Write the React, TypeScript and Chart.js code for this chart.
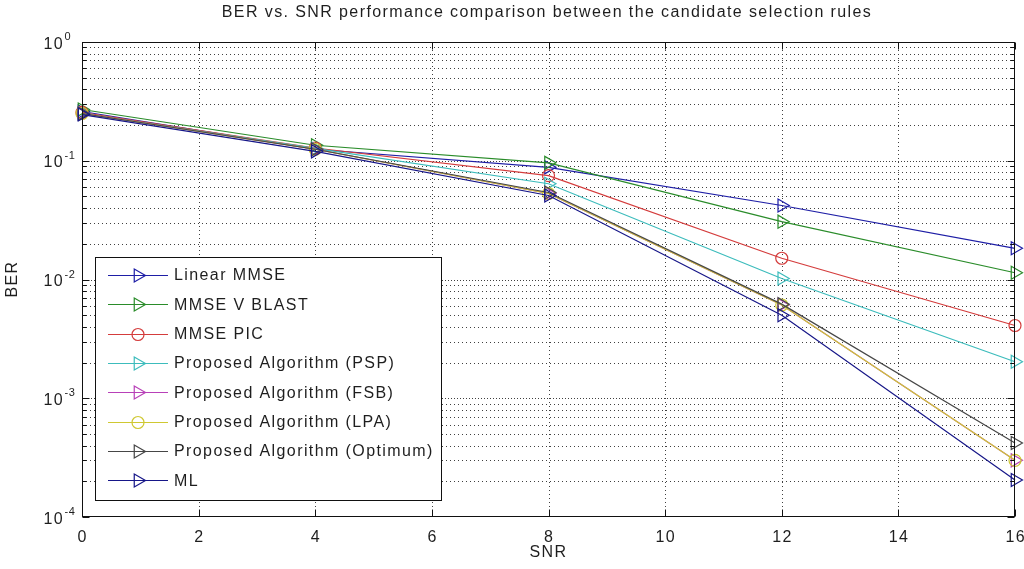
import React, { useEffect, useRef } from 'react';
import { Chart, registerables } from 'chart.js';
import { drawPoint } from 'chart.js/helpers';

Chart.register(...registerables);

// ---- data ----
const snr = [0, 4, 8, 12, 16];
const linearMMSE = [0.26, 0.125, 0.088, 0.042, 0.0183];
const mmseVBlast = [0.27, 0.135, 0.096, 0.0307, 0.0114];
const mmsePIC = [0.255, 0.128, 0.075, 0.0151, 0.0041];
const pspAlg = [0.25, 0.127, 0.064, 0.0102, 0.00203];
const fsbAlg = [0.25, 0.125, 0.053, 0.0061, 0.0003];
const lpaAlg = [0.25, 0.125, 0.053, 0.0061, 0.0003];
const optAlg = [0.25, 0.125, 0.054, 0.0062, 0.00042];
const mlAlg = [0.245, 0.12, 0.051, 0.005, 0.000205];

const seriesLabels = [
  'Linear MMSE',
  'MMSE V BLAST',
  'MMSE PIC',
  'Proposed Algorithm (PSP)',
  'Proposed Algorithm (FSB)',
  'Proposed Algorithm (LPA)',
  'Proposed Algorithm (Optimum)',
  'ML',
];
const seriesValues = [linearMMSE, mmseVBlast, mmsePIC, pspAlg, fsbAlg, lpaAlg, optAlg, mlAlg];
const seriesColors = ['#1e1ea6', '#2a8c2a', '#d43c3c', '#3cbcbc', '#b840b8', '#cfc832', '#464646', '#161688'];
const seriesMarkers = ['triangle', 'triangle', 'circle', 'triangle', 'triangle', 'circle', 'triangle', 'triangle'];

const xTicks = [0, 2, 4, 6, 8, 10, 12, 14, 16];
const yDecades = [-4, -3, -2, -1, 0];
const minorMultipliers = [2, 3, 4, 5, 6, 7, 8, 9];

const titleText = 'BER vs. SNR performance comparison between the candidate selection rules';
const xLabel = 'SNR';
const yLabel = 'BER';

const FONT = '"Liberation Sans", Arial, Helvetica, sans-serif';
const TXT = '#1e1e1e';

function markerOpts(i: number) {
  const tri = seriesMarkers[i] === 'triangle';
  return { pointStyle: seriesMarkers[i], rotation: tri ? 90 : 0, radius: tri ? 7.5 : 6, borderWidth: 1.2 };
}

const matlabAxes = {
  id: 'matlabAxes',
  beforeDraw(chart: any) {
    const ctx = chart.ctx;
    ctx.save();
    ctx.fillStyle = '#ffffff';
    ctx.fillRect(0, 0, chart.width, chart.height);
    ctx.restore();
  },
  beforeDatasetsDraw(chart: any) {
    const { ctx, chartArea: a, scales } = chart;
    const xs = scales.x;
    const ys = scales.y;
    ctx.save();
    ctx.strokeStyle = '#404040';
    ctx.lineWidth = 1;
    const hline = (py: number) => {
      const y = Math.round(py) + 0.5;
      ctx.beginPath();
      ctx.moveTo(a.left, y);
      ctx.lineTo(a.right, y);
      ctx.stroke();
    };
    ctx.setLineDash([1, 3]);
    for (const t of xTicks) {
      if (t === xs.min || t === xs.max) continue;
      const x = Math.round(xs.getPixelForValue(t)) + 0.5;
      ctx.beginPath();
      ctx.moveTo(x, a.top);
      ctx.lineTo(x, a.bottom);
      ctx.stroke();
    }
    for (const e of yDecades.slice(0, -1)) {
      for (const m of minorMultipliers) hline(ys.getPixelForValue(m * Math.pow(10, e)));
    }
    ctx.setLineDash([1, 2]);
    for (const e of yDecades) {
      if (e === yDecades[0] || e === yDecades[yDecades.length - 1]) continue;
      hline(ys.getPixelForValue(Math.pow(10, e)));
    }
    ctx.restore();
  },
  afterDatasetsDraw(chart: any) {
    const { ctx, chartArea: a, scales } = chart;
    const xs = scales.x;
    const ys = scales.y;
    ctx.save();
    // box
    ctx.strokeStyle = '#111';
    ctx.lineWidth = 1;
    ctx.setLineDash([]);
    const L = Math.round(a.left) + 0.5;
    const R = Math.round(a.right) - 0.5;
    const T = Math.round(a.top) + 0.5;
    const B = Math.round(a.bottom) - 0.5;
    ctx.strokeRect(L, T, R - L, B - T);
    const seg = (x1: number, y1: number, x2: number, y2: number) => {
      ctx.beginPath();
      ctx.moveTo(x1, y1);
      ctx.lineTo(x2, y2);
      ctx.stroke();
    };
    // x ticks
    for (const t of xTicks) {
      const x = Math.round(xs.getPixelForValue(t)) + 0.5;
      seg(x, B, x, B - 7);
      seg(x, T, x, T + 7);
    }
    // y ticks
    for (const e of yDecades) {
      const y = Math.round(ys.getPixelForValue(Math.pow(10, e))) + 0.5;
      seg(L, y, L + 7, y);
      seg(R, y, R - 7, y);
      if (e < 0) {
        for (const m of minorMultipliers) {
          const ym = Math.round(ys.getPixelForValue(m * Math.pow(10, e))) + 0.5;
          seg(L, ym, L + 4, ym);
          seg(R, ym, R - 4, ym);
        }
      }
    }
    // tick labels
    ctx.fillStyle = TXT;
    (ctx as any).letterSpacing = '1.4px';
    ctx.font = `16px ${FONT}`;
    ctx.textAlign = 'center';
    ctx.textBaseline = 'alphabetic';
    for (const t of xTicks) {
      ctx.fillText(String(t), xs.getPixelForValue(t) + 0.7, 542);
    }
    for (const e of yDecades) {
      const y = ys.getPixelForValue(Math.pow(10, e));
      ctx.font = `16px ${FONT}`;
      ctx.textAlign = 'right';
      ctx.fillText('10', 64, y + 6.5);
      ctx.font = `11px ${FONT}`;
      (ctx as any).letterSpacing = '0.5px';
      ctx.textAlign = 'left';
      ctx.fillText(String(e), 64.5, y - 2);
      (ctx as any).letterSpacing = '1.4px';
    }
    // title and axis labels
    ctx.font = `16px ${FONT}`;
    ctx.textAlign = 'center';
    ctx.fillText(titleText, 547, 17);
    ctx.fillText(xLabel, (a.left + a.right) / 2, 557);
    ctx.save();
    ctx.translate(17, 279);
    ctx.rotate(-Math.PI / 2);
    ctx.fillText(yLabel, 0, 0);
    ctx.restore();

    // legend
    const datasets = chart.data.datasets;
    ctx.font = `16px ${FONT}`;
    ctx.textAlign = 'left';
    let maxW = 0;
    for (const d of datasets) maxW = Math.max(maxW, ctx.measureText(d.label).width);
    const lx = 95.5;
    const ly = 257.5;
    const lw = Math.round(174 + maxW + 8 - lx);
    const lh = 243;
    ctx.fillStyle = '#ffffff';
    ctx.fillRect(lx, ly, lw, lh);
    ctx.strokeStyle = '#111';
    ctx.lineWidth = 1;
    ctx.strokeRect(lx, ly, lw, lh);
    datasets.forEach((d: any, i: number) => {
      const ry = 275 + i * 29.3;
      ctx.strokeStyle = d.borderColor;
      ctx.lineWidth = 1.2;
      seg(108, Math.round(ry) + 0.5, 168, Math.round(ry) + 0.5);
      ctx.fillStyle = 'rgba(0,0,0,0)';
      drawPoint(ctx, markerOpts(i) as any, 138, Math.round(ry) + 0.5);
      ctx.fillStyle = TXT;
      ctx.textBaseline = 'middle';
      ctx.fillText(d.label, 174, ry + 1);
    });
    ctx.restore();
  },
};

export default function App() {
  const ref = useRef<HTMLCanvasElement>(null);
  useEffect(() => {
    if (!ref.current) return;
    const datasets = seriesLabels.map((label, i) => {
      const m = markerOpts(i);
      return {
        label,
        data: snr.map((x, k) => ({ x, y: seriesValues[i][k] })),
        borderColor: seriesColors[i],
        backgroundColor: 'rgba(0,0,0,0)',
        borderWidth: 1.2,
        pointStyle: m.pointStyle,
        pointRotation: m.rotation,
        pointRadius: m.radius,
        pointBorderWidth: m.borderWidth,
        pointBorderColor: seriesColors[i],
        pointBackgroundColor: 'rgba(0,0,0,0)',
        tension: 0,
        fill: false,
        clip: false,
        order: -i,
      };
    });
    const chart = new Chart(ref.current, {
      type: 'line',
      data: { datasets } as any,
      options: {
        animation: false,
        responsive: false,
        devicePixelRatio: 1,
        layout: { padding: { left: 82, right: 9, top: 42, bottom: 52 } },
        plugins: {
          legend: { display: false },
          title: { display: false },
          tooltip: { enabled: false },
        },
        scales: {
          x: { type: 'linear', min: 0, max: 16, display: false },
          y: { type: 'logarithmic', min: 1e-4, max: 1, display: false },
        },
      } as any,
      plugins: [matlabAxes],
    });
    return () => chart.destroy();
  }, []);
  return (
    <div style={{ position: 'absolute', left: 0, top: 0, width: 1024, height: 569, background: '#fff' }}>
      <canvas ref={ref} width={1024} height={569} style={{ display: 'block', width: 1024, height: 569 }} />
    </div>
  );
}
